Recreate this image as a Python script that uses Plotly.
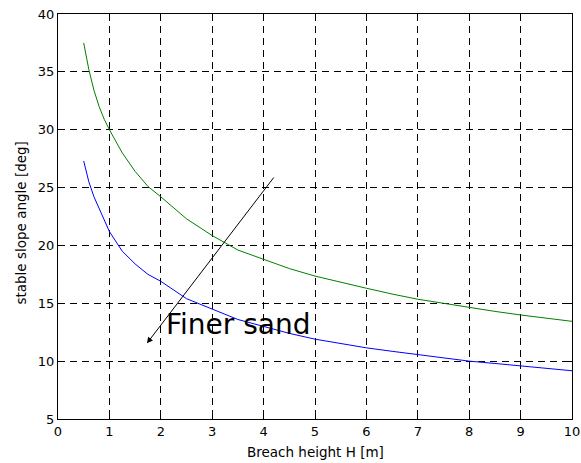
import plotly.graph_objects as go

H = [0.5, 0.6, 0.7, 0.8, 0.9, 1.0, 1.25, 1.5, 1.75, 2.0, 2.5, 3.0, 3.5, 4.0, 4.5,
     5.0, 5.5, 6.0, 6.5, 7.0, 7.5, 8.0, 8.5, 9.0, 9.5, 10.0]
coarse = [37.5, 35.2, 33.4, 32.0, 30.9, 30.0, 28.0, 26.4, 25.1, 24.2, 22.3, 20.85, 19.6,
          18.8, 18.0, 17.35, 16.8, 16.3, 15.8, 15.35, 15.0, 14.62, 14.3, 13.99, 13.7, 13.44]
fine = [27.3, 25.5, 24.2, 23.2, 22.1, 21.2, 19.5, 18.4, 17.5, 16.9, 15.4, 14.5, 13.6,
        13.0, 12.4, 11.9, 11.5, 11.15, 10.85, 10.55, 10.25, 10.0, 9.8, 9.6, 9.4, 9.17]

x_ticks = list(range(0, 11))
y_ticks = [5, 10, 15, 20, 25, 30, 35, 40]

arrow_tail = (4.22, 26.0)
arrow_head = (1.73, 11.54)
label_text = "Finer sand"
label_pos = (2.06, 13.2)

fig = go.Figure()
fig.add_trace(go.Scatter(x=H, y=coarse, mode="lines",
                         line=dict(color="#008000", width=1), showlegend=False))
fig.add_trace(go.Scatter(x=H, y=fine, mode="lines",
                         line=dict(color="#0000ff", width=1), showlegend=False))

axis_common = dict(
    showgrid=True, gridcolor="#000000", gridwidth=1, griddash="7px,5px",
    showline=True, linecolor="#000000", linewidth=1, mirror="ticks",
    ticks="inside", ticklen=4, tickcolor="#000000", zeroline=False,
    automargin=False,
    tickfont=dict(family="DejaVu Sans", size=13, color="#000000"),
)

fig.update_xaxes(range=[0, 10], tickvals=x_ticks, **axis_common)
fig.update_yaxes(range=[5, 40], tickvals=y_ticks, **axis_common)

fig.add_annotation(x=arrow_head[0], y=arrow_head[1], ax=arrow_tail[0], ay=arrow_tail[1],
                   xref="x", yref="y", axref="x", ayref="y", text="",
                   showarrow=True, arrowhead=2, arrowsize=1.2, arrowwidth=1,
                   arrowcolor="#000000")
fig.add_annotation(x=label_pos[0], y=label_pos[1], xref="x", yref="y", text=label_text,
                   showarrow=False, xanchor="left", yanchor="middle",
                   font=dict(family="DejaVu Sans", size=28, color="#000000"))

fig.add_annotation(x=0.5, y=-0.0815, xref="paper", yref="paper",
                   text="Breach height H [m]", showarrow=False,
                   xanchor="center", yanchor="middle",
                   font=dict(family="DejaVu Sans", size=13.5, color="#000000"))
fig.add_annotation(x=-0.072, y=0.485, xref="paper", yref="paper",
                   text="stable slope angle [deg]", showarrow=False, textangle=-90,
                   xanchor="center", yanchor="middle",
                   font=dict(family="DejaVu Sans", size=13.5, color="#000000"))

fig.update_layout(
    width=581, height=463,
    margin=dict(l=58, r=9, t=14, b=44),
    paper_bgcolor="#ffffff", plot_bgcolor="#ffffff",
    showlegend=False,
)

fig.write_html("out.html")
